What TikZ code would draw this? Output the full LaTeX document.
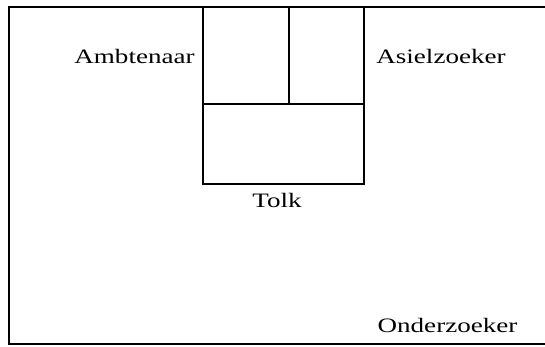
\documentclass[tikz,border=0pt]{standalone}
\usepackage{fontspec}
\newfontfamily\lblfont{Liberation Serif}[FakeStretch=1.32]
\begin{document}
\begin{tikzpicture}[x=1bp,y=-1bp,
  frame/.style={line width=2.2bp},
  role/.style={font=\lblfont\fontsize{20.5bp}{24bp}\selectfont, anchor=base, inner sep=0pt}]
\useasboundingbox (0,0) rectangle (545,346);
% outer frame, open to the right
\draw[frame] (545,7) -- (9,7) -- (9,344) -- (545,344);
% central block: two upper cells above one wide cell
\draw[frame] (203,7) rectangle (364,184);
\draw[frame] (203,104) -- (364,104);
\draw[frame] (289,7) -- (289,104);
% roles
\node[role] (ambt) at (134.5,63) {Ambtenaar};
\node[role] (asiel) at (441,63) {Asielzoeker};
\node[role] (tolk) at (277,207) {Tolk};
\node[role] (onderz) at (447.5,332) {Onderzoeker};
\end{tikzpicture}
\end{document}
